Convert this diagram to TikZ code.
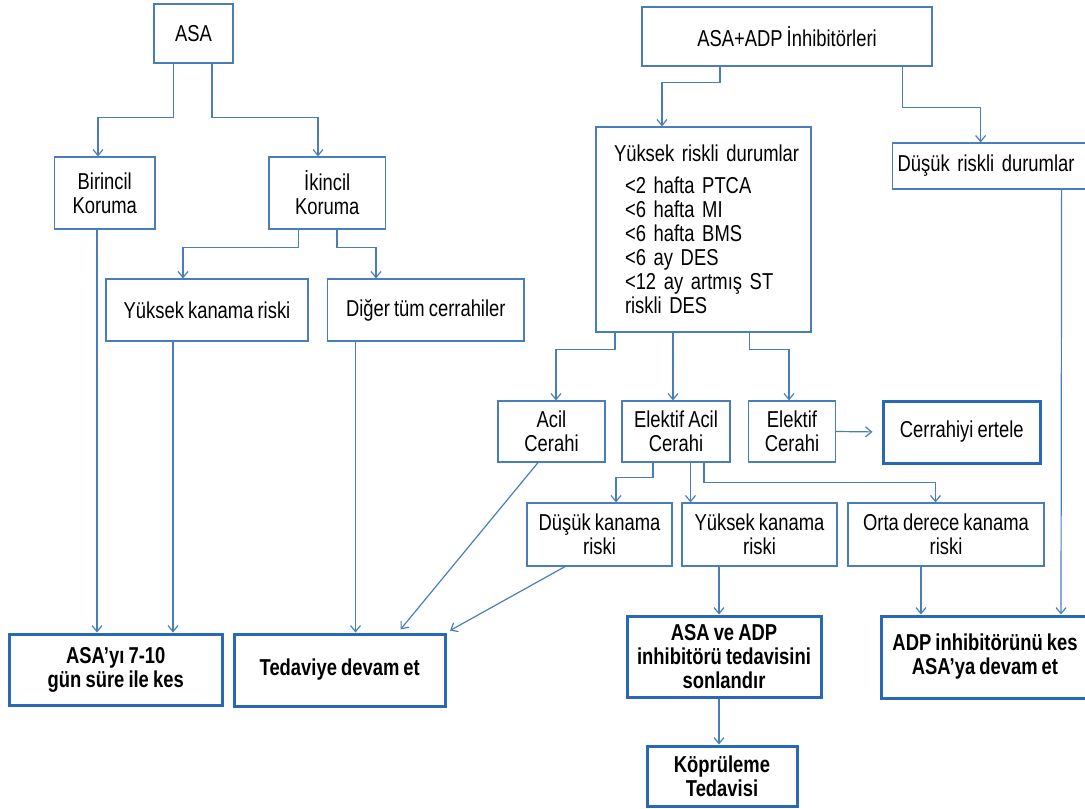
\documentclass[tikz,border=0pt]{standalone}
\usepackage{fontspec}
\setmainfont{Liberation Sans}[FakeStretch=0.8,WordSpace=0.8]
\usetikzlibrary{arrows.meta}
\definecolor{ln}{RGB}{74,126,187}
\definecolor{thk}{RGB}{40,105,180}
\begin{document}
\begin{tikzpicture}[x=1pt,y=1pt,
  bx/.style={draw=ln, line width=1.2pt, inner sep=0pt, align=center, font=\fontsize{23}{24}\selectfont},
  tb/.style={draw=thk, line width=3pt, inner sep=0pt, align=center, font=\fontsize{23}{24}\selectfont\bfseries},
  arr/.style={draw=ln, line width=1.2pt, -{Straight Barb[length=6pt,width=10pt]}}]
\useasboundingbox (0,0) rectangle (1085,-809);

% left tree
\node[bx, minimum width=79pt, minimum height=59pt] (asa) at (193.5,-33.5) {ASA};
\node[bx, minimum width=100.5pt, minimum height=72pt] (bir) at (104.75,-193) {Birincil\\Koruma};
\node[bx, minimum width=116.5pt, minimum height=72pt] (iki) at (327.25,-193) {İkincil\\Koruma};
\node[bx, minimum width=202pt, minimum height=62pt] (ykl) at (207,-310) {Yüksek kanama riski};
\node[bx, minimum width=196.4pt, minimum height=62pt] (dig) at (425.8,-310) {Diğer tüm cerrahiler};
\node[tb, minimum width=212.5pt, minimum height=71pt] (asak) at (115.75,-669.5) {ASA’yı 7-10\\gün süre ile kes};
\node[tb, minimum width=210.5pt, minimum height=72pt] (ted) at (339.75,-670) {Tedaviye devam et};

% right tree
\node[bx, minimum width=290pt, minimum height=59pt] (adp) at (787,-36.5) {ASA+ADP İnhibitörleri};
\node[bx, minimum width=215pt, minimum height=205pt, text width=215pt, align=left] (yrd) at (703.5,-229.5)
  {\hspace*{18pt}Yüksek riskli durumlar\\[8pt]
   \hspace*{29pt}<2 hafta PTCA\\
   \hspace*{29pt}<6 hafta MI\\
   \hspace*{29pt}<6 hafta BMS\\
   \hspace*{29pt}<6 ay DES\\
   \hspace*{29pt}<12 ay artmış ST\\
   \hspace*{29pt}riskli DES};
\node[bx, anchor=west, minimum height=46pt, inner xsep=5pt, text width=193pt, align=left] (drd) at (892,-166) {Düşük riskli durumlar};
\node[bx, minimum width=107pt, minimum height=61pt] (acil) at (551.5,-431.5) {Acil\\Cerahi};
\node[bx, minimum width=108pt, minimum height=61pt] (eac) at (676,-431.5) {Elektif Acil\\Cerahi};
\node[bx, minimum width=87pt, minimum height=61pt] (ec) at (792,-431.5) {Elektif\\Cerahi};
\node[tb, font=\fontsize{23}{24}\selectfont, minimum width=157.5pt, minimum height=62pt] (ce) at (961.75,-432) {Cerrahiyi ertele};
\node[bx, minimum width=145pt, minimum height=63pt] (dkr) at (599.5,-534.5) {Düşük kanama\\riski};
\node[bx, minimum width=155pt, minimum height=63pt] (ykr) at (759.5,-534.5) {Yüksek kanama\\riski};
\node[bx, minimum width=196pt, minimum height=63pt] (odr) at (946,-534.5) {Orta derece kanama\\riski};
\node[tb, minimum width=194pt, minimum height=81pt] (asaadp) at (724,-656.5) {ASA ve ADP\\inhibitörü tedavisini\\sonlandır};
\node[tb, minimum width=208pt, minimum height=82pt] (adpk) at (985,-657) {ADP inhibitörünü kes\\ASA’ya devam et};
\node[tb, minimum width=150pt, minimum height=60pt] (kop) at (722,-776) {Köprüleme\\Tedavisi};

% connectors left
\draw[arr] ([xshift=-20.1pt]asa.south) -- ++(0,-54) -| ([xshift=-6.75pt]bir.north);
\draw[arr] ([xshift=18.5pt]asa.south) -- ++(0,-54) -| ([xshift=-9.25pt]iki.north);
\draw[arr] ([xshift=-28.65pt]iki.south) -- ++(0,-18) -| ([xshift=-24pt]ykl.north);
\draw[arr] ([xshift=9.75pt]iki.south) -- ++(0,-18) -| ([xshift=-49.8pt]dig.north);
\draw[arr] ([xshift=-7.75pt]bir.south) -- ([xshift=-18.75pt]asak.north);
\draw[arr] ([xshift=-34pt]ykl.south) -- ([xshift=57.25pt]asak.north);
\draw[arr] ([xshift=-70.3pt]dig.south) -- ([xshift=15.75pt]ted.north);

% connectors right
\draw[arr] ([xshift=-67pt]adp.south) -- ++(0,-16) -| ([xshift=-41.5pt]yrd.north);
\draw[arr] ([xshift=115.5pt]adp.south) -- ++(0,-41) -| ([xshift=-13.5pt]drd.north);
\draw[arr] ([xshift=67.5pt]drd.south) -- ([xshift=76pt]adpk.north);
\draw[arr] ([xshift=-88.5pt]yrd.south) -- ++(0,-17) -| ([xshift=4.5pt]acil.north);
\draw[arr] ([xshift=-30.5pt]yrd.south) -- ([xshift=-3pt]eac.north);
\draw[arr] ([xshift=46pt]yrd.south) -- ++(0,-17) -| ([xshift=-3pt]ec.north);
\draw[arr, shorten >=9pt] (ec.east) -- (ce.west);
\draw[arr] ([xshift=-23pt]eac.south) -- ++(0,-15) -| ([xshift=16.5pt]dkr.north);
\draw[arr] ([xshift=14.5pt]eac.south) -- ([xshift=-69pt]ykr.north);
\draw[arr] ([xshift=28pt]eac.south) -- ++(0,-20) -| ([xshift=-10.5pt]odr.north);
\draw[arr, shorten >=4pt] ([xshift=-13.5pt]acil.south) -- ([xshift=58.25pt]ted.north);
\draw[arr, shorten >=4pt] ([xshift=-34.5pt]dkr.south) -- (ted.north east);
\draw[arr] ([xshift=-40.5pt]ykr.south) -- ([xshift=-5pt]asaadp.north);
\draw[arr] ([xshift=-25pt]odr.south) -- ([xshift=-64pt]adpk.north);
\draw[arr] ([xshift=-5pt]asaadp.south) -- ([xshift=-3pt]kop.north);
\end{tikzpicture}
\end{document}
